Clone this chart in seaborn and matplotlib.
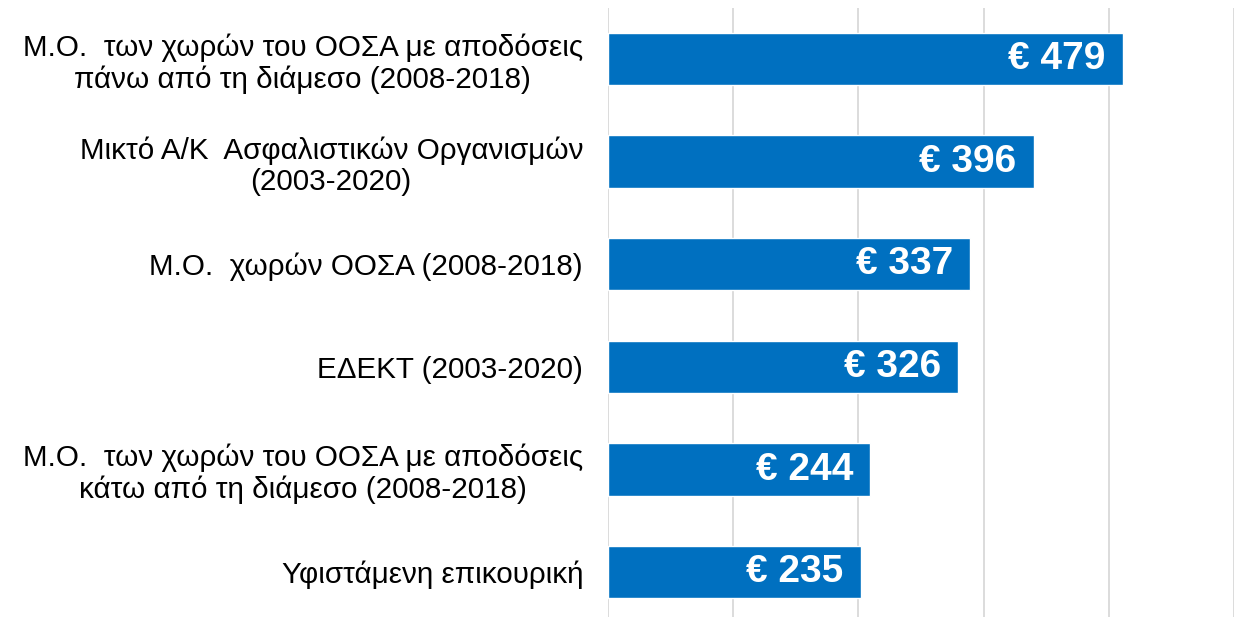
import numpy as np
import pandas as pd
import matplotlib
matplotlib.use("Agg")
import matplotlib.pyplot as plt
import seaborn as sns

# dados do gráfico
categorias = [
    "Μ.Ο.  των χωρών του ΟΟΣΑ με αποδόσεις\nπάνω από τη διάμεσο (2008-2018)",
    "Μικτό Α/Κ  Ασφαλιστικών Οργανισμών\n(2003-2020)",
    "Μ.Ο.  χωρών ΟΟΣΑ (2008-2018)",
    "ΕΔΕΚΤ (2003-2020)",
    "Μ.Ο.  των χωρών του ΟΟΣΑ με αποδόσεις\nκάτω από τη διάμεσο (2008-2018)",
    "Υφιστάμενη επικουρική",
]
valores = [479, 396, 337, 326, 244, 235]
rotulos = [f"€ {v}" for v in valores]

AZUL = "#0070C0"
PASSO_GRADE = 116.5

sns.set_theme(style="white")
plt.rcParams["font.family"] = ["Liberation Sans", "DejaVu Sans"]

df = pd.DataFrame({"categoria": categorias, "valor": valores})

fig = plt.figure(figsize=(12.4, 6.17), dpi=100)
ax = fig.add_axes([608 / 1240, -6.5 / 617, (1234 - 608) / 1240, 616 / 617])

sns.barplot(data=df, x="valor", y="categoria", orient="h", color=AZUL,
            saturation=1, width=0.51, ax=ax)

ax.set_xlim(0, 5 * PASSO_GRADE)
ax.set_xticks(np.arange(6) * PASSO_GRADE)
ax.set_xticklabels([])
ax.tick_params(axis="x", length=0)
ax.tick_params(axis="y", length=0, pad=18)
ax.grid(axis="x", color="#D9D9D9", linewidth=1.3)
ax.set_axisbelow(True)
for lado in ax.spines.values():
    lado.set_visible(False)
ax.set_xlabel("")
ax.set_ylabel("")

for rot in ax.get_yticklabels():
    rot.set_fontsize(21.3)
    rot.set_color("black")
    rot.set_multialignment("center")
    rot.set_linespacing(1.15)

# rótulos de valor dentro das barras
for i, (v, txt) in enumerate(zip(valores, rotulos)):
    ax.text(v - 16, i, txt, ha="right", va="center",
            color="white", fontsize=28, fontweight="bold")

fig.savefig("out.png", dpi=100)
